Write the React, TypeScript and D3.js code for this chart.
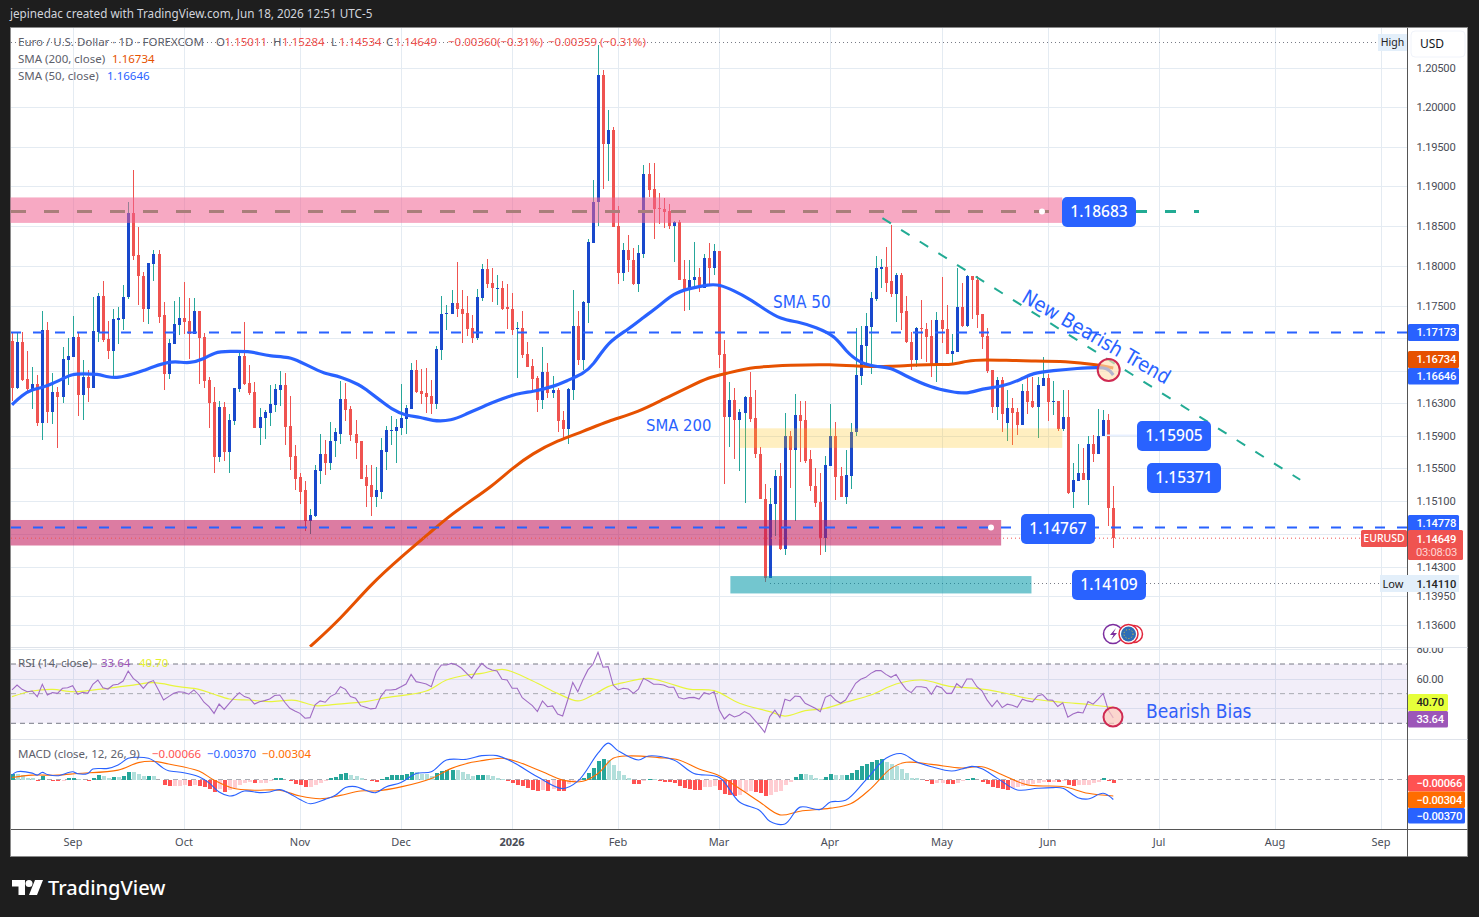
import React, { useEffect, useRef } from "react";
import * as d3 from "d3";

// candles, one per trading day
const opens = [
  1.1707,1.1649,1.1705,1.1660,1.1647,1.1654,1.1606,1.1720,1.1619,1.1644,
  1.1637,1.1683,1.1687,1.1712,1.1640,1.1662,1.1649,1.1718,1.1763,1.1709,
  1.1694,1.1733,1.1734,1.1761,1.1867,1.1814,1.1788,1.1747,1.1803,1.1815,
  1.1739,1.1666,1.1703,1.1726,1.1735,1.1731,1.1715,1.1744,1.1712,1.1659,
  1.1631,1.1564,1.1625,1.1570,1.1608,1.1647,1.1688,1.1655,1.1644,1.1600,
  1.1612,1.1618,1.1628,1.1646,1.1652,1.1602,1.1565,1.1539,1.1523,1.1486,
  1.1492,1.1547,1.1568,1.1557,1.1583,1.1592,1.1635,1.1623,1.1592,1.1583,
  1.1539,1.1530,1.1515,1.1521,1.1570,1.1596,1.1596,1.1600,1.1611,1.1623,
  1.1671,1.1645,1.1642,1.1639,1.1629,1.1696,1.1740,1.1740,1.1754,1.1747,
  1.1741,1.1723,1.1710,1.1760,1.1796,1.1779,1.1772,1.1773,1.1749,1.1747,
  1.1721,1.1723,1.1691,1.1676,1.1661,1.1634,1.1668,1.1642,1.1646,1.1609,
  1.1598,1.1646,1.1725,1.1683,1.1754,1.1829,1.1880,1.2041,1.1954,1.1971,
  1.1850,1.1791,1.1820,1.1808,1.1777,1.1815,1.1915,1.1896,1.1873,1.1872,
  1.1869,1.1850,1.1855,1.1784,1.1771,1.1782,1.1786,1.1773,1.1810,1.1797,
  1.1819,1.1691,1.1613,1.1634,1.1609,1.1618,1.1637,1.1612,1.1568,1.1513,
  1.1417,1.1506,1.1541,1.1452,1.1590,1.1572,1.1615,1.1609,1.1561,1.1529,
  1.1509,1.1465,1.1553,1.1590,1.1540,1.1515,1.1541,1.1594,1.1663,1.1700,
  1.1724,1.1759,1.1796,1.1799,1.1781,1.1765,1.1789,1.1744,1.1706,1.1683,
  1.1723,1.1721,1.1713,1.1678,1.1733,1.1721,1.1691,1.1693,1.1749,1.1725,
  1.1787,1.1783,1.1740,1.1713,1.1671,1.1625,1.1658,1.1606,1.1624,1.1619,
  1.1603,1.1645,1.1633,1.1625,1.1651,1.1661,1.1631,1.1633,1.1598,1.1613,
  1.1521,1.1535,1.1544,1.1536,1.1580,1.1568,1.1589,1.1609,1.15011,
];
const highs = [
  1.1717,1.1717,1.1718,1.1694,1.1675,1.1665,1.1744,1.1730,1.1667,1.1650,
  1.1699,1.1710,1.1738,1.1718,1.1683,1.1671,1.1761,1.1766,1.1781,1.1731,
  1.1747,1.1749,1.1776,1.1880,1.1920,1.1849,1.1793,1.1804,1.1820,1.1820,
  1.1755,1.1709,1.1756,1.1762,1.1780,1.1760,1.1760,1.1744,1.1717,1.1662,
  1.1650,1.1633,1.1631,1.1617,1.1649,1.1694,1.1730,1.1677,1.1656,1.1624,
  1.1622,1.1652,1.1654,1.1670,1.1667,1.1639,1.1579,1.1544,1.1535,1.1500,
  1.1554,1.1592,1.1585,1.1607,1.1600,1.1657,1.1655,1.1626,1.1609,1.1583,
  1.1554,1.1554,1.1552,1.1587,1.1602,1.1614,1.1611,1.1654,1.1628,1.1679,
  1.1683,1.1672,1.1673,1.1658,1.1700,1.1763,1.1751,1.1770,1.1805,1.1770,
  1.1763,1.1739,1.1771,1.1803,1.1809,1.1798,1.1789,1.1781,1.1778,1.1766,
  1.1730,1.1744,1.1705,1.1684,1.1663,1.1699,1.1679,1.1663,1.1649,1.1620,
  1.1649,1.1770,1.1744,1.1757,1.1834,1.1908,1.2080,1.2047,1.1996,1.1975,
  1.1875,1.1829,1.1839,1.1823,1.1826,1.1927,1.1930,1.1929,1.1891,1.1885,
  1.1878,1.1857,1.1858,1.1808,1.1808,1.1830,1.1797,1.1815,1.1829,1.1827,
  1.1819,1.1708,1.1656,1.1649,1.1623,1.1639,1.1668,1.1646,1.1576,1.1531,
  1.1526,1.1548,1.1557,1.1618,1.1596,1.1641,1.1633,1.1633,1.1573,1.1550,
  1.1544,1.1565,1.1629,1.1607,1.1551,1.1573,1.1606,1.1723,1.1725,1.1741,
  1.1767,1.1812,1.1809,1.1824,1.1851,1.1791,1.1791,1.1763,1.1718,1.1724,
  1.1758,1.1729,1.1733,1.1743,1.1786,1.1751,1.1715,1.1797,1.1779,1.1789,
  1.1788,1.1788,1.1740,1.1723,1.1671,1.1662,1.1662,1.1646,1.1636,1.1624,
  1.1654,1.1662,1.1662,1.1662,1.1687,1.1666,1.1657,1.1633,1.1646,1.1646,
  1.1556,1.1580,1.1575,1.1589,1.1591,1.1623,1.1622,1.1617,1.15284,
];
const lows = [
  1.1633,1.1647,1.1657,1.1642,1.1623,1.1602,1.1585,1.1605,1.1604,1.1575,
  1.1630,1.1652,1.1687,1.1614,1.1609,1.1631,1.1649,1.1706,1.1706,1.1684,
  1.1662,1.1703,1.1720,1.1759,1.1808,1.1751,1.1730,1.1728,1.1781,1.1729,
  1.1646,1.1660,1.1703,1.1714,1.1716,1.1684,1.1715,1.1654,1.1649,1.1600,
  1.1544,1.1558,1.1559,1.1544,1.1603,1.1644,1.1652,1.1640,1.1600,1.1579,
  1.1586,1.1602,1.1619,1.1626,1.1579,1.1548,1.1523,1.1507,1.1474,1.1470,
  1.1491,1.1531,1.1542,1.1548,1.1564,1.1580,1.1608,1.1584,1.1562,1.1537,
  1.1503,1.1492,1.1503,1.1513,1.1548,1.1578,1.1557,1.1591,1.1592,1.1623,
  1.1642,1.1629,1.1618,1.1617,1.1623,1.1683,1.1720,1.1740,1.1736,1.1704,
  1.1713,1.1704,1.1708,1.1757,1.1773,1.1755,1.1751,1.1745,1.1721,1.1714,
  1.1661,1.1686,1.1675,1.1644,1.1619,1.1623,1.1636,1.1636,1.1595,1.1586,
  1.1580,1.1634,1.1677,1.1671,1.1729,1.1829,1.1850,1.1897,1.1907,1.1849,
  1.1777,1.1781,1.1792,1.1776,1.1767,1.1810,1.1887,1.1834,1.1853,1.1848,
  1.1846,1.1805,1.1783,1.1744,1.1745,1.1773,1.1767,1.1772,1.1778,1.1789,
  1.1673,1.1531,1.1576,1.1561,1.1547,1.1508,1.1607,1.1563,1.1512,1.1412,
  1.1417,1.1468,1.1451,1.1445,1.1526,1.1486,1.1558,1.1557,1.1522,1.1503,
  1.1445,1.1448,1.1553,1.1511,1.1515,1.1507,1.1525,1.1590,1.1652,1.1677,
  1.1666,1.1756,1.1773,1.1768,1.1761,1.1730,1.1720,1.1704,1.1671,1.1675,
  1.1684,1.1681,1.1662,1.1656,1.1704,1.1691,1.1678,1.1693,1.1724,1.1724,
  1.1734,1.1723,1.1697,1.1667,1.1618,1.1609,1.1594,1.1584,1.1578,1.1591,
  1.1603,1.1617,1.1624,1.1587,1.1651,1.1608,1.1615,1.1596,1.1596,1.1519,
  1.1501,1.1535,1.1536,1.1505,1.1558,1.1568,1.1589,1.1480,1.14534,
];
const closes = [
  1.1649,1.1705,1.1659,1.1647,1.1654,1.1606,1.1720,1.1619,1.1644,1.1637,
  1.1684,1.1688,1.1712,1.1640,1.1662,1.1649,1.1719,1.1763,1.1708,1.1694,
  1.1734,1.1735,1.1762,1.1867,1.1813,1.1787,1.1747,1.1804,1.1815,1.1737,
  1.1666,1.1704,1.1728,1.1735,1.1730,1.1715,1.1744,1.1710,1.1657,1.1630,
  1.1564,1.1625,1.1570,1.1609,1.1649,1.1688,1.1654,1.1642,1.1600,1.1613,
  1.1619,1.1629,1.1647,1.1652,1.1601,1.1564,1.1537,1.1521,1.1486,1.1493,
  1.1548,1.1568,1.1557,1.1584,1.1594,1.1635,1.1622,1.1591,1.1581,1.1537,
  1.1529,1.1515,1.1523,1.1572,1.1597,1.1597,1.1601,1.1612,1.1624,1.1671,
  1.1644,1.1641,1.1637,1.1629,1.1697,1.1740,1.1741,1.1754,1.1746,1.1740,
  1.1721,1.1710,1.1761,1.1796,1.1778,1.1772,1.1773,1.1747,1.1746,1.1720,
  1.1723,1.1689,1.1675,1.1660,1.1634,1.1668,1.1642,1.1646,1.1608,1.1598,
  1.1647,1.1725,1.1683,1.1755,1.1830,1.1880,1.2041,1.1954,1.1971,1.1849,
  1.1791,1.1820,1.1807,1.1777,1.1816,1.1915,1.1895,1.1872,1.1872,1.1868,
  1.1850,1.1855,1.1783,1.1771,1.1783,1.1786,1.1773,1.1810,1.1797,1.1819,
  1.1689,1.1613,1.1634,1.1609,1.1619,1.1637,1.1611,1.1567,1.1512,1.1417,
  1.1507,1.1541,1.1452,1.1590,1.1572,1.1615,1.1608,1.1559,1.1528,1.1508,
  1.1465,1.1554,1.1590,1.1539,1.1515,1.1542,1.1595,1.1665,1.1702,1.1725,
  1.1760,1.1797,1.1799,1.1779,1.1765,1.1789,1.1742,1.1705,1.1683,1.1723,
  1.1721,1.1712,1.1678,1.1733,1.1721,1.1691,1.1694,1.1749,1.1725,1.1787,
  1.1783,1.1739,1.1712,1.1670,1.1625,1.1658,1.1617,1.1624,1.1618,1.1603,
  1.1645,1.1631,1.1625,1.1652,1.1661,1.1631,1.1633,1.1598,1.1613,1.1520,
  1.1536,1.1544,1.1536,1.1580,1.1568,1.1590,1.1609,1.1501,1.14649,
];

// moving averages, sampled along the curve: bar number + price
const sma50Bars = [0,2,4,6,8,10,12,14,17,19,21,24,26,28,31,33,35,38,40,43,47,49,51,55,57,60,62,65,69,70,73,75,78,81,83,87,90,93,96,100,103,107,110,113,115,118,122,125,128,131,134,138,140,143,146,149,152,156,159,163,165,168,171,174,177,182,186,189,192,196,200,202,206,211,215,217,218];
const sma50Vals = [1.1628,1.1640,1.1647,1.1649,1.1654,1.1660,1.1666,1.1666,1.1666,1.1662,1.1661,1.1666,1.1670,1.1675,1.1681,1.1681,1.1679,1.1684,1.1693,1.1694,1.1694,1.1691,1.1688,1.1687,1.1681,1.1672,1.1666,1.1663,1.1652,1.1647,1.1633,1.1623,1.1614,1.1613,1.1608,1.1608,1.1617,1.1625,1.1633,1.1642,1.1644,1.1650,1.1658,1.1666,1.1676,1.1706,1.1721,1.1736,1.1750,1.1766,1.1772,1.1777,1.1777,1.1769,1.1759,1.1746,1.1734,1.1730,1.1724,1.1713,1.1694,1.1679,1.1675,1.1674,1.1663,1.1649,1.1644,1.1641,1.1648,1.1650,1.1660,1.1667,1.1670,1.1673,1.1674,1.1673,1.16646];
const sma200Bars = [59,65,71,77,83,86,90,95,99,103,108,113,118,124,129,134,138,141,147,154,162,169,173,182,186,189,192,200,209,215,218];
const sma200Vals = [1.1334,1.1367,1.1409,1.1442,1.1473,1.1489,1.1507,1.1528,1.1550,1.1568,1.1584,1.1595,1.1608,1.1619,1.1635,1.1650,1.1662,1.1666,1.1675,1.1677,1.1678,1.1675,1.1675,1.1678,1.1677,1.1682,1.1684,1.1682,1.1682,1.1677,1.16734];

// RSI (14), one value per bar
const rsiVals = [
  52.5,55.8,52.9,51.3,51.8,48.0,56.3,49.1,50.7,50.2,53.6,54.0,55.4,49.6,50.9,50.2,56.3,59.2,54.0,53.1,
  55.8,56.3,58.5,65.3,60.3,57.6,53.6,57.6,58.8,52.5,45.7,48.0,50.2,51.3,50.9,49.6,52.5,49.1,44.2,41.2,
  36.7,43.0,39.4,43.5,47.3,50.7,48.0,46.9,43.0,44.6,45.3,46.4,48.7,49.1,44.2,40.1,38.3,36.7,33.4,33.8,
  42.4,45.1,44.2,48.0,49.8,54.7,52.9,48.0,46.9,41.9,40.8,39.7,40.1,48.0,52.5,52.5,52.9,54.7,56.5,63.0,
  58.1,57.4,56.5,54.7,64.8,69.3,69.3,70.4,69.3,67.1,63.7,60.3,66.0,70.4,67.5,66.0,65.3,59.7,59.2,53.6,
  53.6,47.3,44.6,41.9,37.9,45.1,41.2,41.7,36.3,34.9,45.7,57.6,51.3,59.2,66.0,69.8,77.9,67.8,68.2,55.8,
  52.5,53.6,53.1,50.2,53.1,60.3,58.5,56.3,56.3,55.8,54.3,54.3,47.3,46.4,47.3,47.5,46.4,50.7,49.6,51.3,
  39.0,32.9,36.1,34.3,35.4,37.9,36.1,32.2,28.2,23.9,34.5,38.8,34.0,46.2,45.1,48.4,48.0,43.5,41.9,40.1,
  37.9,47.5,49.1,45.7,43.5,45.7,51.3,57.0,59.7,61.0,63.7,65.5,65.5,63.0,61.0,63.0,57.4,52.9,50.7,54.7,
  54.7,54.0,49.6,55.2,54.0,50.2,50.2,56.7,54.0,59.9,59.9,54.7,51.9,45.8,41.3,45.4,40.6,42.9,42.2,40.8,
  46.3,45.1,44.5,48.5,49.4,45.8,45.6,41.3,43.8,34.1,36.3,37.5,37.0,44.7,42.9,46.3,50.1,39.0,33.64,
];
const rsiMaBars = [0,4,8,12,15,19,24,28,33,37,40,43,47,51,56,60,64,70,74,82,86,90,93,97,99,104,108,112,115,118,121,126,130,134,139,144,150,153,157,161,165,170,175,180,186,191,196,201,208,213,218];
const rsiMaVals = [48.0,51.8,52.9,51.3,52.0,53.6,55.8,57.4,54.7,52.9,49.6,46.4,45.7,44.6,45.5,41.9,42.8,44.6,47.3,51.8,59.2,62.6,63.7,66.4,64.8,57.0,50.2,45.1,49.1,54.7,57.4,60.3,57.0,53.1,52.0,43.5,37.9,34.9,38.5,40.1,44.2,49.1,56.5,59.2,54.7,53.6,50.8,46.9,44.2,42.7,40.70];

// MACD (12, 26, 9): sampled lines + histogram per bar
const macdBars = [0,1,4,5,6,7,9,12,13,15,16,19,21,23,25,27,28,30,31,34,37,39,41,43,44,46,49,51,53,55,57,59,62,64,66,68,70,72,74,77,80,83,86,90,93,95,96,99,104,109,112,116,118,120,124,126,131,135,140,144,148,150,153,156,160,162,165,169,173,176,179,182,186,188,190,192,195,199,203,206,208,211,213,216,218];
const macdVals = [.00081,.00143,.00118,.00081,.00131,.00093,.00069,.00143,.00106,.00112,.00193,.00206,.00268,.00392,.00411,.00392,.00349,.00206,.00162,.00125,.0005,-.00062,-.00231,-.00305,-.00293,-.00212,-.00243,-.00231,-.00187,-.00262,-.00368,-.00449,-.00368,-.00293,-.0015,-.00131,-.00199,-.00243,-.00137,-.00056,.00112,.00143,.00361,.00374,.00442,.00449,.00442,.0033,.0005,-.00168,-.00031,.00486,.00673,.0053,.00361,.00436,.00361,.00112,.00037,-.00417,-.00573,-.00773,-.00822,-.00511,-.00554,-.00417,-.00386,-.00012,.00392,.0048,.0033,.00237,.00156,.00193,.00243,.00199,.00025,-.00193,-.00162,-.0015,-.00162,-.00336,-.00361,-.00255,-.0037];
const signalBars = [0,4,9,13,21,25,28,31,37,40,44,48,53,57,61,65,69,72,77,83,87,91,93,97,100,105,109,113,116,119,122,128,132,136,140,144,148,152,156,162,166,170,174,177,182,188,192,196,201,208,213,218];
const signalVals = [.00037,.00081,.00081,.00112,.00174,.00312,.00336,.00287,.00156,-.00012,-.00168,-.00199,-.00199,-.00305,-.00355,-.00293,-.00212,-.00212,-.00137,.00019,.00206,.00318,.00349,.00392,.0033,.00143,-.00012,-.00031,.00112,.00392,.00436,.00405,.00361,.00193,.00069,-.00168,-.00417,-.00654,-.00586,-.0053,-.00449,-.00168,.00206,.00318,.0028,.00212,.00237,.00087,-.001,-.00131,-.00255,-.00304];
const histVals = [
  .00093,.00093,.00075,.00037,.00019,-.00019,.00056,-.00006,-.00019,-.00025,-.00019,.00025,.00037,.00006,0,-.00019,.00037,.00075,.00062,.00037,
  .0005,.0005,.00062,.00137,.00137,.00093,.00062,.00069,.00062,0,-.00106,-.00125,-.00125,-.00118,-.00106,-.00125,-.00106,-.00112,-.00137,-.00168,
  -.00231,-.00174,-.00237,-.00187,-.00156,-.00093,-.00069,-.0005,-.00069,-.00056,-.00056,-.00025,.00019,.00031,0,-.00031,-.00075,-.00106,-.00137,-.00137,
  -.00093,-.00062,-.00031,.00031,.00044,.00093,.00118,.00087,.00062,.00031,0,-.00031,-.0005,.00012,.0005,.00075,.00081,.00087,.00106,.00137,
  .00131,.00106,.00093,.00062,.00125,.00156,.00168,.00181,.00168,.00137,.00093,.00062,.00075,.00087,.00081,.00062,.00037,.00012,-.00025,-.00062,
  -.00093,-.00125,-.00162,-.00187,-.00206,-.00199,-.00209,-.00174,-.00206,-.00212,-.00075,-.00037,-.00019,.00037,.00125,.00206,.00349,.00374,.00368,.00262,
  .00156,.00081,.00025,-.00081,-.00087,-.00031,.00012,.00006,-.00031,-.00044,-.0005,-.00062,-.00125,-.0015,-.00174,-.00187,-.00193,-.00143,-.00137,-.00125,
  -.00187,-.00262,-.00293,-.00299,-.0028,-.00231,-.00218,-.00231,-.00249,-.00312,-.0028,-.00231,-.00218,-.00093,-.0005,.0005,.00106,.001,.00075,.00037,
  .00006,.00044,.00093,.00087,.00081,.00087,.00118,.00174,.00255,.00293,.00324,.00368,.00374,.0033,.00293,.00249,.00199,.00125,.00037,.00019,
  0,-.00031,-.00075,-.00069,-.00062,-.00081,-.00087,-.00056,-.00031,.00012,.00019,0,-.0005,-.00081,-.00137,-.0015,-.00174,-.00187,-.00156,-.00137,
  -.00112,-.00087,-.00075,-.00056,-.00044,-.0005,-.00044,-.0005,-.00031,-.00093,-.00118,-.00106,-.001,-.00093,-.00062,-.00037,.00019,-.00025,-.00066,
];

// axes (1.171, 1.167 and 1.147 sit behind the price tags, so grid line only)
const priceTicks = [1.205,1.2,1.195,1.19,1.185,1.18,1.175,1.171,1.167,1.163,1.159,1.155,1.151,1.147,1.143,1.1395,1.136];
const hiddenTicks = [1.171,1.167,1.147];
const monthBars = [12,34,57,77,99,120,140,162,184,205,227,250,271];
const monthLabels = ["Sep","Oct","Nov","Dec","2026","Feb","Mar","Apr","May","Jun","Jul","Aug","Sep"];

const W = 1479, H = 917;
const FONT = "'Noto Sans', sans-serif";
const AXIS_FONT = "Roboto, sans-serif";
const NOTE_FONT = "'DejaVu Sans Condensed', 'DejaVu Sans', sans-serif";
const BLUE = "#2962ff", RED = "#ef5350", TEAL = "#22ab94", ORANGE = "#e65100", GRID = "#e4ebf2";
const AXIS_X = 1407.5, RIGHT = 1467.5;

const App: React.FC = (): JSX.Element => {
  const ref = useRef<SVGSVGElement>(null);

  useEffect(() => {
    const svg = d3.select(ref.current);
    svg.selectAll("*").remove();

    const x = d3.scaleLinear().domain([0, 218]).range([12, 1113.3]);
    const y = d3.scaleLog().domain([1.205, 1.136]).range([68, 625]);
    const yRsi = d3.scaleLinear().domain([70, 30]).range([664, 723.3]);
    const yMacd = d3.scaleLinear().domain([0, -0.0037]).range([779.5, 799.5]);
    const bar = (i: number) => Math.round(x(i)) + 0.5;

    const txt = (g: any, s: string, px: number, py: number, size: number, fill: string, opts: any = {}) => {
      const t = g.append("text").attr("x", px).attr("y", py).attr("dy", "0.35em")
        .attr("font-family", opts.family || FONT).attr("font-size", size).attr("fill", fill)
        .attr("font-weight", opts.weight || 400).attr("text-anchor", opts.anchor || "start").text(s);
      if (opts.family === NOTE_FONT) t.attr("font-stretch", "condensed");
      if (opts.spacing) t.attr("letter-spacing", opts.spacing);
      return t;
    };
    const axisTxt = (s: string, px: number, py: number, fill: string, opts: any = {}) =>
      txt(svg, s, px, py, 11.2, fill, { family: AXIS_FONT, spacing: -0.25, ...opts });

    // frame
    svg.append("rect").attr("width", W).attr("height", H).attr("fill", "#1e1e1e");
    svg.append("rect").attr("x", 10.5).attr("y", 27.5).attr("width", RIGHT - 10.5).attr("height", 829)
      .attr("fill", "#fff").attr("stroke", "#8a8a8a");
    txt(svg, "jepinedac created with TradingView.com, Jun 18, 2026 12:51 UTC-5", 10, 14, 11.7, "#d1d4dc");

    const defs = svg.append("defs");
    defs.append("clipPath").attr("id", "pane").append("rect")
      .attr("x", 11).attr("y", 28).attr("width", AXIS_X - 11).attr("height", 619);
    defs.append("clipPath").attr("id", "rsiAxis").append("rect")
      .attr("x", AXIS_X).attr("y", 648).attr("width", 60).attr("height", 90);

    // grid
    const grid = svg.append("g").attr("stroke", GRID).attr("shape-rendering", "crispEdges");
    priceTicks.forEach(t => grid.append("line").attr("x1", 11).attr("x2", AXIS_X)
      .attr("y1", Math.round(y(t)) + 0.5).attr("y2", Math.round(y(t)) + 0.5));
    monthBars.forEach(b => grid.append("line").attr("x1", bar(b)).attr("x2", bar(b)).attr("y1", 28).attr("y2", 829));
    [649, 679, 708].forEach(v => grid.append("line").attr("x1", 11).attr("x2", AXIS_X).attr("y1", v + 0.5).attr("y2", v + 0.5));

    // high / low markers
    const dots = svg.append("g").attr("stroke", "#787b86").attr("stroke-dasharray", "1 3");
    dots.append("line").attr("x1", 11).attr("x2", 1378).attr("y1", 42.5).attr("y2", 42.5);
    dots.append("line").attr("x1", 770).attr("x2", 1380).attr("y1", 583.5).attr("y2", 583.5);

    // candles
    const candles = svg.append("g").attr("clip-path", "url(#pane)").attr("shape-rendering", "crispEdges");
    const isUp = (i: number) => closes[i] >= opens[i];
    candles.selectAll("line").data(opens).enter().append("line")
      .attr("x1", (_d, i) => bar(i)).attr("x2", (_d, i) => bar(i))
      .attr("y1", (_d, i) => y(highs[i])).attr("y2", (_d, i) => y(lows[i]))
      .attr("stroke", (_d, i) => isUp(i) ? "#26a69a" : RED);
    candles.selectAll("rect").data(opens).enter().append("rect")
      .attr("x", (_d, i) => bar(i) - 1.5).attr("width", 3)
      .attr("y", (_d, i) => y(Math.max(opens[i], closes[i])))
      .attr("height", (_d, i) => Math.max(1, Math.abs(y(opens[i]) - y(closes[i]))))
      .attr("fill", (_d, i) => isUp(i) ? "#1848cc" : RED);

    // zones, laid over the candles
    const zone = (b0: number, b1: number, p0: number, p1: number, fill: string, op: number) =>
      svg.append("rect").attr("x", x(b0)).attr("width", x(b1) - x(b0)).attr("y", y(p0))
        .attr("height", y(p1) - y(p0)).attr("fill", fill).attr("opacity", op);
    zone(-0.3, 207.9, 1.1886, 1.1854, "#f06292", 0.55);
    zone(-0.3, 195.8, 1.1487, 1.1456, "#c2185b", 0.57);
    zone(144, 207.9, 1.1599, 1.1575, "#ffc107", 0.25);
    zone(142.2, 201.8, 1.1419, 1.1398, "#0097a7", 0.55);

    // moving averages
    const curve = (bars: number[], vals: number[], sy: any, shape: any = d3.curveCatmullRom.alpha(0.5)) => d3.line<number>()
      .x(b => x(b)).y((_b, i) => sy(vals[i])).curve(shape)(bars);
    const ma = svg.append("g").attr("clip-path", "url(#pane)").attr("fill", "none");
    ma.append("path").attr("d", curve(sma200Bars, sma200Vals, y, d3.curveBasis)).attr("stroke", ORANGE).attr("stroke-width", 3);
    ma.append("path").attr("d", curve(sma50Bars, sma50Vals, y, d3.curveBasis)).attr("stroke", BLUE).attr("stroke-width", 3.2);

    // horizontal levels
    const hline = (p: number, x0: number, x1: number, stroke: string, w: number, dash: string) =>
      svg.append("line").attr("x1", x0).attr("x2", x1).attr("y1", y(p)).attr("y2", y(p))
        .attr("stroke", stroke).attr("stroke-width", w).attr("stroke-dasharray", dash);
    hline(1.17173, 11, AXIS_X, BLUE, 2, "10 12");
    hline(1.14778, 11, AXIS_X, BLUE, 2, "10 12");
    hline(1.14649, 11, AXIS_X, RED, 1, "1 3");
    hline(1.18683, 11, 1062, "#a97e7a", 3, "15 18");
    hline(1.18683, 1136, 1199, TEAL, 3, "11 18");
    svg.append("circle").attr("cx", 1042).attr("cy", y(1.18683)).attr("r", 3).attr("fill", "#fff");
    svg.append("circle").attr("cx", 991).attr("cy", y(1.14778)).attr("r", 3).attr("fill", "#fff");
    svg.append("line").attr("x1", 1106).attr("x2", 1137).attr("y1", y(1.15905)).attr("y2", y(1.15905))
      .attr("stroke", "#e8f0ff").attr("stroke-width", 1.5);

    // trend line
    svg.append("line").attr("x1", x(172.3)).attr("y1", y(1.1860)).attr("x2", x(255)).attr("y2", y(1.1536))
      .attr("stroke", TEAL).attr("stroke-width", 2).attr("stroke-dasharray", "10 12");

    // notes
    txt(svg, "SMA 50", 773, 302, 17, BLUE, { family: NOTE_FONT });
    txt(svg, "SMA 200", 646, 425, 16.5, BLUE, { family: NOTE_FONT });
    txt(svg, "New Bearish Trend", 0, 0, 20, BLUE, { family: NOTE_FONT })
      .attr("transform", "translate(1024,295) rotate(30)");
    txt(svg, "Bearish Bias", 1146, 711, 19, BLUE, { family: NOTE_FONT });
    svg.append("circle").attr("cx", 1108.7).attr("cy", 370).attr("r", 11).attr("fill", "#ffe0b2").attr("fill-opacity", 0.65)
      .attr("stroke", "#cf2a52").attr("stroke-width", 2);

    const flag = (px: number, py: number, w: number, label: string) => {
      svg.append("rect").attr("x", px).attr("y", py).attr("width", w).attr("height", 30).attr("rx", 5).attr("fill", BLUE);
      txt(svg, label, px + w / 2, py + 15, 15.5, "#fff", { anchor: "middle", weight: 500 });
    };
    flag(1062, 197, 74, "1.18683");
    flag(1137, 421, 74, "1.15905");
    flag(1147, 463, 74, "1.15371");
    flag(1021, 514, 74, "1.14767");
    flag(1072, 570, 74, "1.14109");

    // event icons
    const icons = svg.append("g").attr("fill", "none");
    icons.append("circle").attr("cx", 1113).attr("cy", 634).attr("r", 9.5).attr("stroke", "#7b2d9e").attr("stroke-width", 1.5).attr("fill", "#fff");
    icons.append("path").attr("d", "M1116 628 L1110 635 L1113.5 635 L1111 640 L1117 633 L1113.5 633 Z").attr("fill", "#7b2d9e");
    icons.append("circle").attr("cx", 1134).attr("cy", 634).attr("r", 8.5).attr("stroke", "#e0263c").attr("stroke-width", 1.5).attr("fill", "#fff");
    icons.append("circle").attr("cx", 1128.5).attr("cy", 634).attr("r", 9.5).attr("stroke", "#e0263c").attr("stroke-width", 1.5).attr("fill", "#fff");
    icons.append("circle").attr("cx", 1128.5).attr("cy", 634).attr("r", 7.5).attr("fill", "#2f6db5");
    icons.append("circle").attr("cx", 1128.5).attr("cy", 634).attr("r", 4.5).attr("stroke", "#e8c93a").attr("stroke-dasharray", "1 2");

    // RSI pane
    svg.append("line").attr("x1", 11).attr("x2", RIGHT).attr("y1", 647.5).attr("y2", 647.5).attr("stroke", "#dfe3ea");
    svg.append("rect").attr("x", 11).attr("width", AXIS_X - 11).attr("y", yRsi(70)).attr("height", yRsi(30) - yRsi(70))
      .attr("fill", "#7e57c2").attr("opacity", 0.1);
    [[70, "#787b86"], [50, "#a9abb3"], [30, "#787b86"]].forEach(([v, c]) =>
      svg.append("line").attr("x1", 11).attr("x2", AXIS_X).attr("y1", yRsi(v as number)).attr("y2", yRsi(v as number))
        .attr("stroke", c as string).attr("stroke-dasharray", "5 4"));
    const rsiLine = d3.line<number>().x((_d, i) => x(i)).y(d => yRsi(d));
    svg.append("path").attr("d", curve(rsiMaBars, rsiMaVals, yRsi)).attr("fill", "none").attr("stroke", "#e8f53c").attr("stroke-width", 1.2);
    svg.append("path").attr("d", rsiLine(rsiVals)).attr("fill", "none").attr("stroke", "#a06cc4").attr("stroke-width", 1.1);
    svg.append("circle").attr("cx", 1113).attr("cy", 717).attr("r", 9.5).attr("fill", "#ffccbc").attr("fill-opacity", 0.7)
      .attr("stroke", "#cf2a52").attr("stroke-width", 2);

    // MACD pane
    svg.append("line").attr("x1", 11).attr("x2", RIGHT).attr("y1", 739.5).attr("y2", 739.5).attr("stroke", "#dfe3ea");
    svg.append("line").attr("x1", 11).attr("x2", AXIS_X).attr("y1", yMacd(0)).attr("y2", yMacd(0))
      .attr("stroke", "#a9abb3").attr("stroke-dasharray", "5 4");
    const histColor = (d: number, i: number) => {
      const prev = i > 0 ? histVals[i - 1] : 0;
      if (d >= 0) return d > prev ? "#26a69a" : "#b2dfdb";
      return d < prev ? "#ff5252" : "#ffcdd2";
    };
    svg.append("g").attr("shape-rendering", "crispEdges").selectAll("rect").data(histVals).enter().append("rect")
      .attr("x", (_d, i) => bar(i) - 2).attr("width", 4)
      .attr("y", d => Math.min(yMacd(0), yMacd(d))).attr("height", d => Math.abs(yMacd(d) - yMacd(0)))
      .attr("fill", histColor);
    svg.append("path").attr("d", curve(signalBars, signalVals, yMacd)).attr("fill", "none").attr("stroke", "#ff6d00").attr("stroke-width", 1.1);
    svg.append("path").attr("d", curve(macdBars, macdVals, yMacd)).attr("fill", "none").attr("stroke", BLUE).attr("stroke-width", 1.1);

    // legends
    const row = (py: number, parts: [string, string, number][]) => {
      parts.forEach(([s, c, px]) => txt(svg, s, px, py, 11.5, c));
    };
    const GRAY = "#5d606b";
    row(42, [
      ["Euro / U.S. Dollar · 1D · FOREXCOM", GRAY, 18], ["O", GRAY, 216], ["1.15011", RED, 224.5],
      ["H", GRAY, 273], ["1.15284", RED, 282], ["L", GRAY, 331], ["1.14534", RED, 339],
      ["C", GRAY, 386], ["1.14649", RED, 394.5], ["−0.00360", RED, 448], ["(−0.31%)", RED, 497],
      ["−0.00359", RED, 548], ["(−0.31%)", RED, 600],
    ]);
    row(59, [["SMA (200, close)", GRAY, 18], ["1.16734", ORANGE, 112]]);
    row(76, [["SMA (50, close)", GRAY, 18], ["1.16646", BLUE, 107]]);
    row(663, [["RSI (14, close)", GRAY, 18], ["33.64", "#9c56b8", 101], ["40.70", "#e6f02e", 139]]);
    row(754, [["MACD (close, 12, 26, 9)", GRAY, 18], ["−0.00066", "#ff5252", 152], ["−0.00370", BLUE, 207], ["−0.00304", "#ff6d00", 262]]);

    // axes
    svg.append("line").attr("x1", AXIS_X).attr("x2", AXIS_X).attr("y1", 28).attr("y2", 857).attr("stroke", "#555");
    svg.append("line").attr("x1", 11).attr("x2", RIGHT).attr("y1", 829.5).attr("y2", 829.5).attr("stroke", "#555");
    priceTicks.filter(t => !hiddenTicks.includes(t)).forEach(t => axisTxt(t.toFixed(5), 1416.5, y(t), "#4a4d57"));
    axisTxt("80.00", 1416.5, 649, "#4a4d57").attr("clip-path", "url(#rsiAxis)");
    axisTxt("60.00", 1416.5, 679, "#4a4d57");
    monthBars.forEach((b, i) => txt(svg, monthLabels[i], bar(b) - 0.5, 842, 11, "#4a4d57",
      { anchor: "middle", weight: monthLabels[i] === "2026" ? 700 : 400 }));

    // axis tags
    const tag = (py: number, h: number, w: number, fill: string, label: string, color = "#fff", weight = 500) => {
      svg.append("rect").attr("x", 1408).attr("y", py).attr("width", w).attr("height", h).attr("rx", 1.5).attr("fill", fill);
      axisTxt(label, 1416.5, py + h / 2, color, { weight });
    };
    tag(324, 17, 51, BLUE, "1.17173");
    tag(351, 17, 51, ORANGE, "1.16734");
    tag(368, 16.5, 51, BLUE, "1.16646");
    tag(515, 17, 51, BLUE, "1.14778");
    svg.append("rect").attr("x", 1408).attr("y", 530).attr("width", 55).attr("height", 30).attr("rx", 1.5).attr("fill", RED);
    axisTxt("1.14649", 1416.5, 539, "#fff", { weight: 500 });
    axisTxt("03:08:03", 1416, 552, "#ffd5d3");
    svg.append("rect").attr("x", 1361).attr("y", 530).attr("width", 46).attr("height", 17).attr("rx", 1.5).attr("fill", RED);
    txt(svg, "EURUSD", 1384, 538.5, 10.5, "#fff", { anchor: "middle", weight: 500 });
    svg.append("rect").attr("x", 1380).attr("y", 575).attr("width", 79).attr("height", 17).attr("fill", "#e3effa");
    txt(svg, "Low", 1393, 584, 11, "#222", { anchor: "middle" });
    axisTxt("1.14110", 1416.5, 584, "#222", { weight: 500 });
    svg.append("rect").attr("x", 1378).attr("y", 34).attr("width", 29).attr("height", 17).attr("fill", "#e3effa");
    txt(svg, "High", 1392.5, 42, 10.5, "#222", { anchor: "middle" });
    svg.append("rect").attr("x", 1411).attr("y", 31).attr("width", 54).attr("height", 26).attr("rx", 4).attr("fill", "#fff").attr("stroke", "#f0f3fa");
    txt(svg, "USD", 1420, 44, 12, "#131722");

    tag(694, 17, 40, "#e6ff3a", "40.70", "#222");
    tag(711, 16.5, 40, "#9c56b8", "33.64");
    tag(775, 16.5, 57, "#ff5252", "−0.00066");
    tag(791.5, 16.5, 57, "#ff6d00", "−0.00304");
    tag(808, 15.5, 57, BLUE, "−0.00370");

    // logo
    const logo = svg.append("g").attr("fill", "#fff");
    logo.append("path").attr("d", "M12 880 H25 V895 H18.5 V886.5 H12 Z");
    logo.append("circle").attr("cx", 29).attr("cy", 883.5).attr("r", 3.5);
    logo.append("path").attr("d", "M35 880 H43 L37 895 H29 Z");
    txt(svg, "TradingView", 48, 887.5, 20, "#fff", { weight: 500 });
  }, []);

  return (
    <svg ref={ref} width={W} height={H} style={{ position: "absolute", left: 0, top: 0 }}></svg>
  );
};

export default App;
